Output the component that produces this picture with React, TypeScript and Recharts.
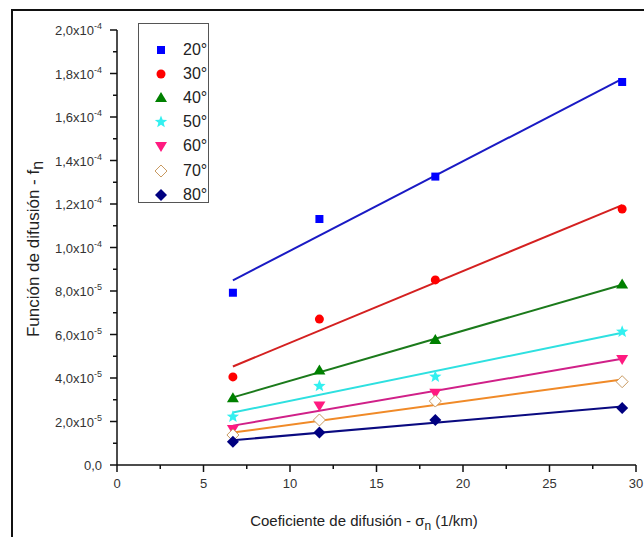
import React from 'react';
import { ComposedChart, Line, Scatter, XAxis, YAxis, Legend } from 'recharts';

// sigma_n (1/km) at which every angle was measured
const sigma = [6.7, 11.7, 18.4, 29.2];

// f_n measured, per incidence angle
const f20 = [7.92e-5, 11.31e-5, 13.26e-5, 17.61e-5];
const f30 = [4.05e-5, 6.71e-5, 8.51e-5, 11.77e-5];
const f40 = [3.07e-5, 4.34e-5, 5.75e-5, 8.3e-5];
const f50 = [2.22e-5, 3.63e-5, 4.06e-5, 6.13e-5];
const f60 = [1.66e-5, 2.73e-5, 3.32e-5, 4.87e-5];
const f70 = [1.38e-5, 2.07e-5, 2.94e-5, 3.83e-5];
const f80 = [1.07e-5, 1.49e-5, 2.07e-5, 2.62e-5];

// fitted straight lines, value at first and last sigma
const fitX = [6.7, 29.2];
const fit20 = [8.49e-5, 17.75e-5];
const fit30 = [4.53e-5, 11.95e-5];
const fit40 = [3.11e-5, 8.29e-5];
const fit50 = [2.41e-5, 6.08e-5];
const fit60 = [1.81e-5, 4.88e-5];
const fit70 = [1.49e-5, 3.93e-5];
const fit80 = [1.14e-5, 2.69e-5];

const angles = ['20°', '30°', '40°', '50°', '60°', '70°', '80°'];

const xTicks = [0, 2.5, 5, 7.5, 10, 12.5, 15, 17.5, 20, 22.5, 25, 27.5, 30];
const xTickLabels = ['0', '5', '10', '15', '20', '25', '30'];
const yTicks = [0, 1e-5, 2e-5, 3e-5, 4e-5, 5e-5, 6e-5, 7e-5, 8e-5, 9e-5, 10e-5, 11e-5, 12e-5, 13e-5, 14e-5, 15e-5, 16e-5, 17e-5, 18e-5, 19e-5, 20e-5];
const yMant = ['0,0', '2,0', '4,0', '6,0', '8,0', '1,0', '1,2', '1,4', '1,6', '1,8', '2,0'];
const yExp = ['', '-5', '-5', '-5', '-5', '-4', '-4', '-4', '-4', '-4', '-4'];

const FONT = '"Liberation Sans", Arial, sans-serif';

type Kind = 'square' | 'circle' | 'triangle' | 'star' | 'down' | 'hollowDiamond' | 'diamond';

const series: { name: string; pts: number[]; fit: number[]; fill: string; line: string; kind: Kind }[] = [
  { name: angles[0], pts: f20, fit: fit20, fill: '#0000ff', line: '#1a1ac4', kind: 'square' },
  { name: angles[1], pts: f30, fit: fit30, fill: '#ff0000', line: '#d42020', kind: 'circle' },
  { name: angles[2], pts: f40, fit: fit40, fill: '#008000', line: '#1b7a1b', kind: 'triangle' },
  { name: angles[3], pts: f50, fit: fit50, fill: '#33f0f0', line: '#2ee0e0', kind: 'star' },
  { name: angles[4], pts: f60, fit: fit60, fill: '#ff1a80', line: '#d02088', kind: 'down' },
  { name: angles[5], pts: f70, fit: fit70, fill: '#ffffff', line: '#f08a28', kind: 'hollowDiamond' },
  { name: angles[6], pts: f80, fit: fit80, fill: '#000080', line: '#0a0a80', kind: 'diamond' },
];

function starPoints(cx: number, cy: number, ro: number, ri: number) {
  const p: string[] = [];
  for (let i = 0; i < 10; i++) {
    const r = i % 2 === 0 ? ro : ri;
    const a = -Math.PI / 2 + (i * Math.PI) / 5;
    p.push(`${cx + r * Math.cos(a)},${cy + r * Math.sin(a)}`);
  }
  return p.join(' ');
}

function Marker({ kind, cx, cy, fill }: { kind: Kind; cx: number; cy: number; fill: string }) {
  switch (kind) {
    case 'square':
      return <rect x={cx - 4} y={cy - 4} width={8} height={8} fill={fill} />;
    case 'circle':
      return <circle cx={cx} cy={cy} r={4.5} fill={fill} />;
    case 'triangle':
      return <polygon points={`${cx},${cy - 6} ${cx - 6},${cy + 4} ${cx + 6},${cy + 4}`} fill={fill} />;
    case 'star':
      return <polygon points={starPoints(cx, cy, 6.5, 2.8)} fill={fill} />;
    case 'down':
      return <polygon points={`${cx},${cy + 6} ${cx - 6},${cy - 4} ${cx + 6},${cy - 4}`} fill={fill} />;
    case 'hollowDiamond':
      return <polygon points={`${cx},${cy - 6} ${cx + 6},${cy} ${cx},${cy + 6} ${cx - 6},${cy}`} fill="#fff" stroke="#c89a62" strokeWidth={1} />;
    default:
      return <polygon points={`${cx},${cy - 6} ${cx + 6},${cy} ${cx},${cy + 6} ${cx - 6},${cy}`} fill={fill} />;
  }
}

const XTick = (props: any) => {
  const { x, y, index } = props;
  const major = index % 2 === 0;
  return (
    <g>
      <line x1={x} x2={x} y1={y} y2={y + (major ? 7 : 4)} stroke="#111" strokeWidth={1.5} />
      {major && (
        <text x={x} y={y + 23} textAnchor="middle" fontSize={13} fill="#333" fontFamily={FONT}>
          {xTickLabels[index / 2]}
        </text>
      )}
    </g>
  );
};

const YTick = (props: any) => {
  const { x, y, index } = props;
  const major = index % 2 === 0;
  const k = index / 2;
  return (
    <g>
      <line x1={x} x2={x - (major ? 7 : 4)} y1={y} y2={y} stroke="#111" strokeWidth={1.5} />
      {major && (
        <text x={x - 15} y={y + 5} textAnchor="end" fontSize={13} fill="#333" fontFamily={FONT}>
          {yMant[k]}
          {yExp[k] && (
            <>
              x10
              <tspan dy={-6} fontSize={9}>{yExp[k]}</tspan>
            </>
          )}
        </text>
      )}
    </g>
  );
};

function LegendBox() {
  return (
    <div
      style={{
        width: 71,
        height: 180,
        boxSizing: 'border-box',
        border: '1px solid #555',
        background: '#fff',
        paddingTop: 14,
        fontFamily: FONT,
      }}
    >
      {series.map((s) => (
        <div key={s.name} style={{ height: 24.1, display: 'flex', alignItems: 'center' }}>
          <svg width={44} height={20} style={{ display: 'block' }}>
            <Marker kind={s.kind} cx={22} cy={10} fill={s.fill} />
          </svg>
          <span style={{ fontSize: 16, color: '#222' }}>{s.name}</span>
        </div>
      ))}
    </div>
  );
}

export default function App() {
  return (
    <div style={{ position: 'absolute', left: 0, top: 0, width: 644, height: 537, overflow: 'hidden', background: '#fff' }}>
      <div style={{ position: 'absolute', left: 11, top: 9, width: 700, height: 600, borderLeft: '2px solid #111', borderTop: '2px solid #111' }} />
      <div style={{ position: 'absolute', left: 0, top: 0 }}>
        <ComposedChart width={644} height={537} margin={{ top: 30, right: 8, bottom: 10, left: 0 }}>
          <XAxis
            dataKey="x"
            type="number"
            domain={[0, 30]}
            ticks={xTicks}
            interval={0}
            tickSize={0}
            tickMargin={0}
            tick={XTick}
            height={62}
            allowDataOverflow
            axisLine={{ stroke: '#111', strokeWidth: 1.5 }}
          />
          <YAxis
            dataKey="y"
            type="number"
            domain={[0, 2e-4]}
            ticks={yTicks}
            interval={0}
            tickSize={0}
            tickMargin={0}
            tick={YTick}
            width={117}
            allowDataOverflow
            axisLine={{ stroke: '#111', strokeWidth: 1.5 }}
          />
          {series.map((s) => (
            <Line
              key={'fit' + s.name}
              data={fitX.map((x, i) => ({ x, y: s.fit[i] }))}
              dataKey="y"
              stroke={s.line}
              strokeWidth={2}
              dot={false}
              activeDot={false}
              isAnimationActive={false}
              legendType="none"
            />
          ))}
          {series.map((s) => (
            <Scatter
              key={'pts' + s.name}
              name={s.name}
              data={sigma.map((x, i) => ({ x, y: s.pts[i] }))}
              isAnimationActive={false}
              shape={(p: any) => <Marker kind={s.kind} cx={p.cx} cy={p.cy} fill={s.fill} />}
            />
          ))}
          <Legend
            layout="horizontal"
            verticalAlign="middle"
            align="center"
            content={() => <LegendBox />}
            wrapperStyle={{ position: 'absolute', left: 138, top: 23, width: 71, height: 180 }}
          />
          <text
            transform="translate(39,249) rotate(-90)"
            textAnchor="middle"
            fontSize={17}
            fill="#222"
            fontFamily={FONT}
          >
            Función de difusión - f<tspan dy={4} fontSize={16}>n</tspan>
          </text>
          <text x={364} y={526} textAnchor="middle" fontSize={15} fill="#222" fontFamily={FONT}>
            Coeficiente de difusión - σ<tspan dy={4} fontSize={12}>n</tspan>
            <tspan dy={-4}> (1/km)</tspan>
          </text>
        </ComposedChart>
      </div>
    </div>
  );
}
